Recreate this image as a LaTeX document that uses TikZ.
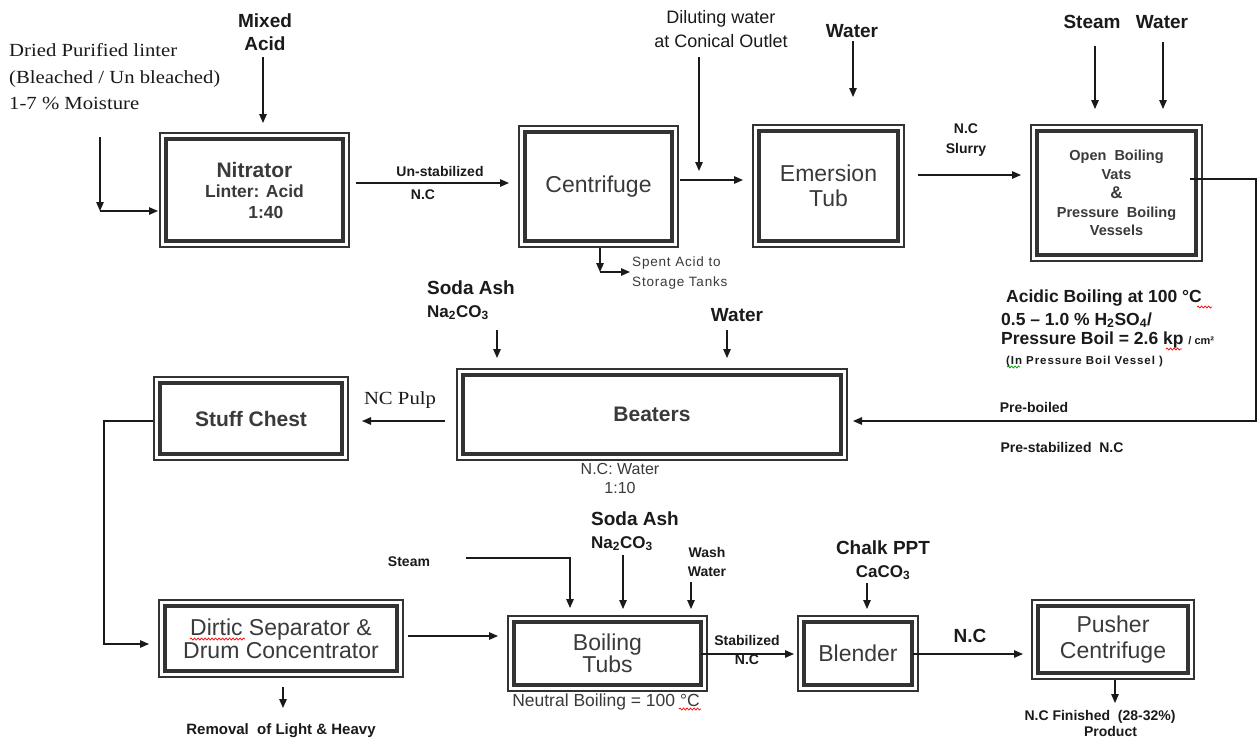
\documentclass[tikz,border=0pt]{standalone}
\usepackage{fontspec}
\setmainfont{Liberation Sans}
\newfontfamily\serifface[FakeStretch=1.12]{Liberation Serif}
\usetikzlibrary{arrows.meta,decorations.pathmorphing}
\definecolor{boxc}{HTML}{333333}
\definecolor{txt}{HTML}{3A3A3A}
\definecolor{ink}{HTML}{1A1A1A}
\newcommand\fsz[2]{\fontsize{#1}{#2}\selectfont}
\tikzset{
  pb/.style={draw=boxc, line width=2pt, rectangle, inner sep=0pt, align=center, text=txt},
  pbin/.style={draw=boxc, line width=3.5pt},
  arr/.style={draw=ink, line width=1.3pt, -{Triangle[length=9pt,width=7.5pt]}},
  ln/.style={draw=ink, line width=1.3pt},
  lab/.style={inner sep=0pt, align=center, text=ink, font=\fsz{19}{23}\bfseries},
  sml/.style={inner sep=0pt, align=center, text=ink, font=\fsz{14}{20}\bfseries},
  wavy/.style={draw=red, line width=0.7pt, decorate, decoration={snake, amplitude=1pt, segment length=3.5pt}},
}
\newcommand\pbox[7]{%
  \node[pb, font={#6}, minimum width={#4-#2-2}, minimum height={#5-#3-2}] (#1) at ({(#2+#4)/2},{(#3+#5)/2}) {#7};
  \draw[pbin] ([shift={(7,7)}]#1.north west) rectangle ([shift={(-7,-7)}]#1.south east);
}
\begin{document}
\begin{tikzpicture}[x=1pt,y=-1pt]
\useasboundingbox[fill=white] (0,0) rectangle (1258,740);
% ---------- process boxes ----------
\pbox{nit}{159}{132}{350}{248}{\fsz{17.5}{20.5}\bfseries}{{\fsz{21}{24}\bfseries Nitrator}\\Linter: Acid\\\hspace*{1.3em}1:40}
\pbox{cen}{518}{125}{679}{248}{\fsz{23}{27}}{Centrifuge}
\pbox{emt}{752}{124}{905}{248}{\fsz{23}{25}}{Emersion\\Tub}
\pbox{obv}{1030}{124}{1203}{262}{\fsz{14.5}{18.5}\bfseries}{Open\ \ Boiling\\Vats\\[1pt]{\fsz{17}{21}\&}\\Pressure\ \ Boiling\\Vessels}
\pbox{stc}{153}{376}{349}{461}{\fsz{21}{24}\bfseries}{Stuff Chest}
\pbox{bea}{456}{368}{848}{461}{\fsz{21}{24}\bfseries}{Beaters}
\pbox{dsc}{158}{599}{404}{678}{\fsz{23}{23}}{Dirtic Separator \&\\Drum Concentrator}
\pbox{bot}{507}{615}{708}{692}{\fsz{23}{22}}{Boiling\\Tubs}
\pbox{ble}{797}{615}{919}{692}{\fsz{23}{25}}{Blender}
\pbox{pus}{1031}{599}{1195}{680}{\fsz{23}{26}}{Pusher\\Centrifuge}
% ---------- top row ----------
\node[inner sep=0pt, align=left, anchor=west, text=ink, font=\serifface\fsz{18.5}{26.5}] (lint) at (9,77) {Dried Purified linter\\(Bleached / Un bleached)\\1-7 \% Moisture};
\coordinate (ls) at (100,137);
\coordinate (lc) at (100,211);
\draw[arr] (ls) -- (lc);
\draw[arr,shorten >=1pt] (lc) -- (lc -| nit.west);
\node[lab] (mix) at (265,32) {Mixed\\Acid};
\coordinate (mixs) at (263,57);
\draw[arr,shorten >=9pt] (mixs) -- (mixs |- nit.north);
\coordinate (us) at (356,183);
\draw[arr,shorten >=9pt] (us) -- (us -| cen.west);
\node[sml] (unst) at (440,171) {Un-stabilized};
\node[sml] (unnc) at (423,195) {N.C};
\coordinate (ce) at (680,180);
\draw[arr,shorten >=9pt] (ce) -- (ce -| emt.west);
\node[inner sep=0pt, align=center, text=ink, font=\fsz{18}{24}] (dil) at (721,29) {Diluting water\\at Conical Outlet};
\coordinate (dils) at (699,57);
\coordinate (dile) at (699,171);
\draw[arr] (dils) -- (dile);
\coordinate (sp0) at (600,248);
\coordinate (sp1) at (600,272);
\node[inner sep=0pt, anchor=west, align=left, text=txt, font=\fsz{13.5}{20}\addfontfeatures{LetterSpace=6}] (spent) at (632,273) {Spent Acid to\\Storage Tanks};
\draw[arr] (sp0) -- (sp1);
\draw[arr,shorten >=2pt] (sp1) -- (spent.west |- sp1);
\node[lab] (w1) at (852,31) {Water};
\coordinate (w1s) at (853,41);
\draw[arr,shorten >=27pt] (w1s) -- (w1s |- emt.north);
\coordinate (eo) at (918,175);
\draw[arr,shorten >=9pt] (eo) -- (eo -| obv.west);
\node[sml] (slur) at (966,140) {N.C\\Slurry};
\node[lab] (st1) at (1092,22) {Steam};
\node[lab] (w2) at (1162,22) {Water};
\coordinate (st1s) at (1095,46);
\coordinate (w2s) at (1163,42);
\draw[arr,shorten >=15pt] (st1s) -- (st1s |- obv.north);
\draw[arr,shorten >=15pt] (w2s) -- (w2s |- obv.north);
% ---------- return loop ----------
\coordinate (r0) at (1190,179);
\coordinate (r1) at (1256,179);
\coordinate (r2) at (1256,421);
\draw[arr,shorten >=5pt] (r0) -- (r1) -- (r2) -- (r2 -| bea.east);
\node[sml, font=\fsz{14}{18}\bfseries] (preb) at (1034,407) {Pre-boiled};
\node[sml, font=\fsz{14}{18}\bfseries] (pres) at (1062,447) {Pre-stabilized\ \ N.C};
\node[anchor=west, inner sep=0pt, text=ink, font=\fsz{17.5}{22}\bfseries] (ac1) at (1006,298) {Acidic Boiling at 100 °C};
\node[anchor=west, inner sep=0pt, text=ink, font=\fsz{17.5}{22}\bfseries] (ac2) at (1001,320) {0.5 – 1.0 \% H\textsubscript{2}SO\textsubscript{4}/};
\node[anchor=west, inner sep=0pt, text=ink, font=\fsz{17.5}{22}\bfseries] (ac3) at (1001,340) {Pressure Boil = 2.6 kp {\fsz{11}{13}/ cm²}};
\node[anchor=west, inner sep=0pt, text=ink, font=\fsz{11.5}{14}\bfseries\addfontfeatures{LetterSpace=8}] (ac4) at (1006,362) {(In Pressure Boil Vessel )};
% ---------- middle row ----------
\node[lab, align=left, anchor=west] (sa1) at (427,300) {Soda Ash\\{\fsz{17}{20}Na\textsubscript{2}CO\textsubscript{3}}};
\coordinate (sa1s) at (497,330);
\draw[arr,shorten >=10pt] (sa1s) -- (sa1s |- bea.north);
\node[lab] (w3) at (737,315) {Water};
\coordinate (w3s) at (727,330);
\draw[arr,shorten >=10pt] (w3s) -- (w3s |- bea.north);
\coordinate (bs) at (445,421);
\draw[arr,shorten >=13pt] (bs) -- (bs -| stc.east);
\node[inner sep=0pt, text=ink, font=\serifface\fsz{18.5}{22}] (pulp) at (400,400) {NC Pulp};
\node[inner sep=0pt, align=center, text=txt, font=\fsz{16}{19}] (ncw) at (620,478) {N.C: Water\\1:10};
\coordinate (k1) at (104,421);
\coordinate (k2) at (104,644);
\draw[arr,shorten >=9pt] (k1 -| stc.west) -- (k1) -- (k2) -- (k2 -| dsc.west);
% ---------- bottom row ----------
\coordinate (db) at (408,636);
\draw[arr,shorten >=9pt] (db) -- (db -| bot.west);
\node[sml, font=\fsz{15}{18}\bfseries] (rem) at (281,731) {Removal\ \ of Light \&\ Heavy};
\coordinate (rm0) at (283,687);
\coordinate (rm1) at (283,708);
\draw[arr] (rm0) -- (rm1);
\node[sml] (st2) at (409,562) {Steam};
\coordinate (s0) at (466,558);
\coordinate (s1) at (570,558);
\draw[arr,shorten >=7pt] (s0) -- (s1) -- (s1 |- bot.north);
\node[lab, align=left, anchor=west] (sa2) at (591,531) {Soda Ash\\{\fsz{17}{20}Na\textsubscript{2}CO\textsubscript{3}}};
\coordinate (sa2s) at (623,555);
\draw[arr,shorten >=6pt] (sa2s) -- (sa2s |- bot.north);
\node[sml, font=\fsz{14}{19}\bfseries] (ww) at (707,562) {Wash\\Water};
\coordinate (wws) at (691,582);
\draw[arr,shorten >=6pt] (wws) -- (wws |- bot.north);
\coordinate (bb) at (701,654);
\draw[arr,shorten >=3pt] (bb) -- (bb -| ble.west);
\node[sml] (stab) at (747,640) {Stabilized};
\node[sml] (stnc) at (747,660) {N.C};
\node[inner sep=0pt, text=txt, font=\fsz{17.5}{20}] (neut) at (606,702) {Neutral Boiling = 100 °C};
\node[lab] (chk) at (883,560) {Chalk PPT\\{\fsz{17}{20}CaCO\textsubscript{3}}};
\coordinate (chs) at (867,583);
\draw[arr,shorten >=6pt] (chs) -- (chs |- ble.north);
\coordinate (bp) at (913,654);
\draw[arr,shorten >=8pt] (bp) -- (bp -| pus.west);
\node[lab] (pnc) at (970,636) {N.C};
\coordinate (pd) at (1115,680);
\coordinate (pd1) at (1115,703);
\draw[arr] (pd) -- (pd1);
\node[sml, font=\fsz{14}{16}\bfseries] (fin) at (1100,723) {N.C Finished\ \ (28-32\%)\\\hspace*{1.5em}Product};
% ---------- spell-check marks ----------
\draw[wavy] (190,639) -- (245,639);
\draw[wavy] (679,709) -- (701,709);
\draw[wavy] (1197,307) -- (1212,307);
\draw[wavy] (1166,349) -- (1182,349);
\draw[wavy, draw=green!60!black] (1007,367) -- (1020,367);
\end{tikzpicture}
\end{document}
